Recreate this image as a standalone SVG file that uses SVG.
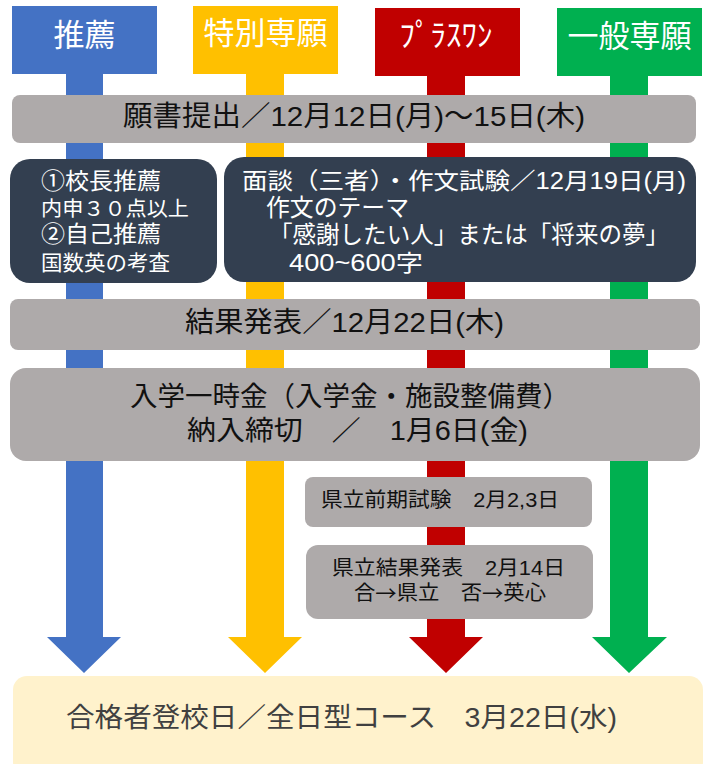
<svg xmlns="http://www.w3.org/2000/svg" width="709" height="764" viewBox="0 0 709 764">
<style>
text{font-family:"Liberation Sans","Noto Sans CJK JP",sans-serif;dominant-baseline:central}
tspan{dominant-baseline:central}
.cjk{font-family:"Noto Sans CJK JP",sans-serif}
.hd{fill:#fff;font-size:31px;text-anchor:middle}
.bk{fill:#111}
.wt{fill:#fff}
.gray{fill:#aeaaaa}
.dark{fill:#333f50}
</style>
<g id="connectors">
<polygon fill="#4472c4" points="66,70 103,70 103,637 121,637 84,673 47,637 66,637"/>
<polygon fill="#ffc000" points="246,70 284,70 284,637 302,637 265,673 228,637 246,637"/>
<polygon fill="#c00000" points="427,70 465,70 465,637 483,637 446,673 409,637 427,637"/>
<polygon fill="#00b050" points="610,70 648,70 648,637 667,637 629,673 592,637 610,637"/>
</g>
<g id="h-suisen"><rect x="12" y="6" width="145" height="68" fill="#4472c4"/><text class="hd" x="84.5" y="35">推薦</text></g>
<g id="h-tokubetsu"><rect x="193" y="6" width="145" height="68" fill="#ffc000"/><text class="hd" x="265.5" y="33">特別専願</text></g>
<g id="h-plusone"><rect x="375" y="8" width="145" height="68" fill="#c00000"/><text class="hd" x="446" y="35">ﾌﾟﾗｽﾜﾝ</text></g>
<g id="h-ippan"><rect x="557" y="8" width="145" height="68" fill="#00b050"/><text class="hd" x="629.5" y="36">一般専願</text></g>
<g id="n-gansho"><rect class="gray" x="12" y="95" width="684" height="48" rx="8"/><text class="bk" x="123" y="116.5" font-size="28" textLength="462" lengthAdjust="spacingAndGlyphs">願書提出／12月12日(月)～15日(木)</text></g>
<g id="n-suisen">
<rect class="dark" x="10" y="159" width="207" height="124" rx="20"/>
<text class="wt"><tspan x="41" y="180.5" font-size="23" textLength="120" lengthAdjust="spacingAndGlyphs">①校長推薦</tspan><tspan x="41" y="208" font-size="20.5" textLength="148" lengthAdjust="spacingAndGlyphs">内申３０点以上</tspan><tspan x="41" y="234" font-size="23" textLength="120" lengthAdjust="spacingAndGlyphs">②自己推薦</tspan><tspan x="41" y="261.5" font-size="21" textLength="129" lengthAdjust="spacingAndGlyphs">国数英の考査</tspan></text>
</g>
<g id="n-mendan">
<rect class="dark" x="224" y="157" width="472" height="125" rx="20"/>
<text class="wt"><tspan x="242" y="180.5" font-size="23" textLength="444" lengthAdjust="spacingAndGlyphs">面談（三者）・作文試験／12月19日(月)</tspan><tspan x="266" y="208" font-size="23.5" textLength="143" lengthAdjust="spacingAndGlyphs">作文のテーマ</tspan><tspan x="269" y="235" font-size="23.5" textLength="400" lengthAdjust="spacingAndGlyphs">「感謝したい人」または「将来の夢」</tspan><tspan x="289" y="262.5" font-size="23" textLength="134" lengthAdjust="spacingAndGlyphs">400~600字</tspan></text>
</g>
<g id="n-kekka"><rect class="gray" x="10" y="299" width="690" height="51" rx="8"/><text class="bk" x="185" y="322.5" font-size="28" textLength="319" lengthAdjust="spacingAndGlyphs">結果発表／12月22日(木)</text></g>
<g id="n-nyugaku"><rect class="gray" x="10" y="368" width="690" height="93" rx="16"/>
<text class="bk" font-size="27.5"><tspan x="130" y="395.5" textLength="440" lengthAdjust="spacingAndGlyphs">入学一時金（入学金・施設整備費）</tspan><tspan x="187" y="429.5" textLength="341" lengthAdjust="spacingAndGlyphs">納入締切　／　1月6日(金)</tspan></text>
</g>
<g id="n-kenritsu-zenki"><rect class="gray" x="305" y="477" width="287" height="50" rx="8"/><text class="bk" x="321" y="499.5" font-size="20.5" textLength="238" lengthAdjust="spacingAndGlyphs">県立前期試験　2月2,3日</text></g>
<g id="n-kenritsu-kekka"><rect class="gray" x="306" y="545" width="287" height="74" rx="12"/>
<text class="bk" font-size="20.5"><tspan x="332" y="567" textLength="233" lengthAdjust="spacingAndGlyphs">県立結果発表　2月14日</tspan><tspan x="354" y="592" textLength="192" lengthAdjust="spacingAndGlyphs">合<tspan class="cjk">→</tspan>県立　否<tspan class="cjk">→</tspan>英心</tspan></text>
</g>
<g id="n-toko"><rect x="13" y="676" width="690" height="100" rx="14" fill="#fff2cc"/><text x="66" y="717.5" font-size="27" fill="#404040" textLength="551" lengthAdjust="spacingAndGlyphs">合格者登校日／全日型コース　3月22日(水)</text></g>
</svg>
